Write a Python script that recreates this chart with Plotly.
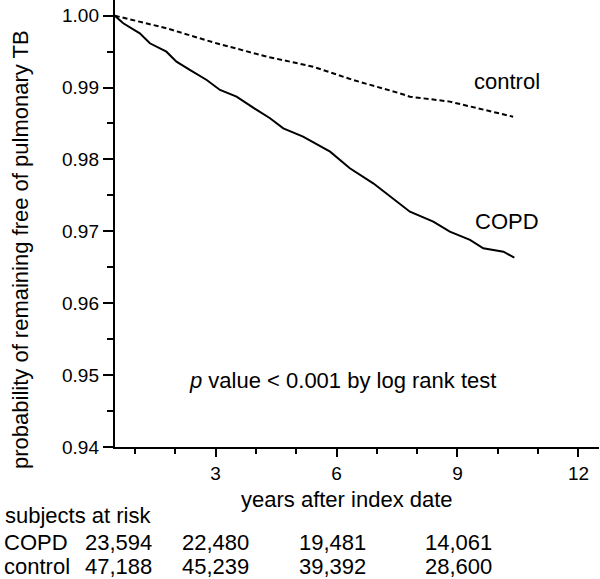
import plotly.graph_objects as go

# ---- data ----
control_t = [0.5, 1.78, 3.02, 4.27, 5.42, 6.41, 7.57, 7.82, 8.81, 9.64, 10.38]
control_s = [1.000, 0.99825, 0.99616, 0.99430, 0.99290, 0.99105, 0.98920, 0.98873, 0.98804, 0.98689, 0.98595]

copd_t = [0.5, 0.71, 1.12, 1.37, 1.78, 2.03, 2.36, 2.78, 3.11, 3.52, 4.02, 4.35, 4.68, 5.17,
          5.84, 6.08, 6.33, 6.91, 7.33, 7.82, 8.40, 8.81, 9.31, 9.64, 10.14, 10.41]
copd_s = [1.000, 0.99894, 0.99755, 0.99616, 0.99499, 0.99360, 0.99245, 0.99105, 0.98966, 0.98873,
          0.98689, 0.98573, 0.98433, 0.98317, 0.98108, 0.97993, 0.97877, 0.97668, 0.97482, 0.97273,
          0.97134, 0.96995, 0.96880, 0.96764, 0.96717, 0.96633]

x_tickvals = [3, 6, 9, 12]
x_ticktext = ["3", "6", "9", "12"]
y_tickvals = [0.94, 0.95, 0.96, 0.97, 0.98, 0.99, 1.00]
y_ticktext = ["0.94", "0.95", "0.96", "0.97", "0.98", "0.99", "1.00"]

risk_groups = ["COPD", "control"]
risk_copd = ["23,594", "22,480", "19,481", "14,061"]
risk_control = ["47,188", "45,239", "39,392", "28,600"]

W, H = 600, 579
FONT = "Arial, Liberation Sans, sans-serif"
BIG = 22

fig = go.Figure()
fig.add_trace(go.Scatter(x=control_t, y=control_s, mode="lines",
                         line=dict(color="black", width=2, dash="5px,3px"), showlegend=False))
fig.add_trace(go.Scatter(x=copd_t, y=copd_s, mode="lines",
                         line=dict(color="black", width=2), showlegend=False))

def px(xp):
    return xp / W

def py(yp):
    return 1 - yp / H

def txt(size=BIG):
    return dict(size=size, color="black", family=FONT)

annotations = []
# axis titles
annotations.append(dict(text="probability of remaining free of pulmonary TB", xref="paper", yref="paper",
                        x=px(20), y=py(250), textangle=-90, showarrow=False,
                        xanchor="center", yanchor="middle", font=txt()))
annotations.append(dict(text="years after index date", xref="paper", yref="paper",
                        x=px(347), y=py(499), showarrow=False,
                        xanchor="center", yanchor="middle", font=txt()))
# curve labels
annotations.append(dict(text="control", xref="x", yref="y", x=10.23, y=0.99082, showarrow=False,
                        xanchor="center", yanchor="middle", font=txt()))
annotations.append(dict(text="COPD", xref="x", yref="y", x=10.23, y=0.97134, showarrow=False,
                        xanchor="center", yanchor="middle", font=txt()))
annotations.append(dict(text="<i>p</i> value &lt; 0.001 by log rank test", xref="x", yref="y", x=6.15, y=0.94918,
                        showarrow=False, xanchor="center", yanchor="middle", font=txt()))
# at-risk table
annotations.append(dict(text="subjects at risk", xref="paper", yref="paper", x=px(3), y=py(515),
                        showarrow=False, xanchor="left", yanchor="middle", font=txt()))
row_y = [542, 566.5]
col_right = [152.7, 250, 367, 492.5]
for g, vals, yy in zip(risk_groups, [risk_copd, risk_control], row_y):
    annotations.append(dict(text=g, xref="paper", yref="paper", x=px(3), y=py(yy),
                            showarrow=False, xanchor="left", yanchor="middle", borderpad=0, font=txt()))
    for v, xr in zip(vals, col_right):
        annotations.append(dict(text=v, xref="paper", yref="paper", x=px(xr), y=py(yy),
                                showarrow=False, xanchor="right", yanchor="middle", borderpad=0, font=txt()))

fig.update_layout(
    width=W, height=H,
    margin=dict(l=0, r=0, t=0, b=0),
    paper_bgcolor="white", plot_bgcolor="white",
    font=dict(family=FONT, color="black"),
    annotations=annotations,
    xaxis=dict(domain=[114.8 / W, 598.6 / W], range=[0.5, 12.5], automargin=False,
               showgrid=False, zeroline=False, showline=True, linecolor="black", linewidth=2,
               ticks="outside", ticklen=8, tickwidth=1.5, tickcolor="black",
               tickvals=x_tickvals, ticktext=x_ticktext, tickfont=txt(19),
               minor=dict(dtick=1, tick0=0, ticks="outside", ticklen=5, tickwidth=1.5, tickcolor="black",
                          showgrid=False)),
    yaxis=dict(domain=[1 - 447 / H, 1], range=[0.93999, 1.00218], automargin=False,
               showgrid=False, zeroline=False, showline=True, linecolor="black", linewidth=2,
               ticks="outside", ticklen=10, tickwidth=1.5, tickcolor="black",
               tickvals=y_tickvals, ticktext=y_ticktext, tickfont=txt(19),
               minor=dict(dtick=0.005, tick0=0.94, ticks="outside", ticklen=6, tickwidth=1.5, tickcolor="black",
                          showgrid=False)),
)

fig.write_html("out.html", config={"displayModeBar": False},
               post_script="document.body.style.margin='0px';document.body.style.overflow='hidden';")
